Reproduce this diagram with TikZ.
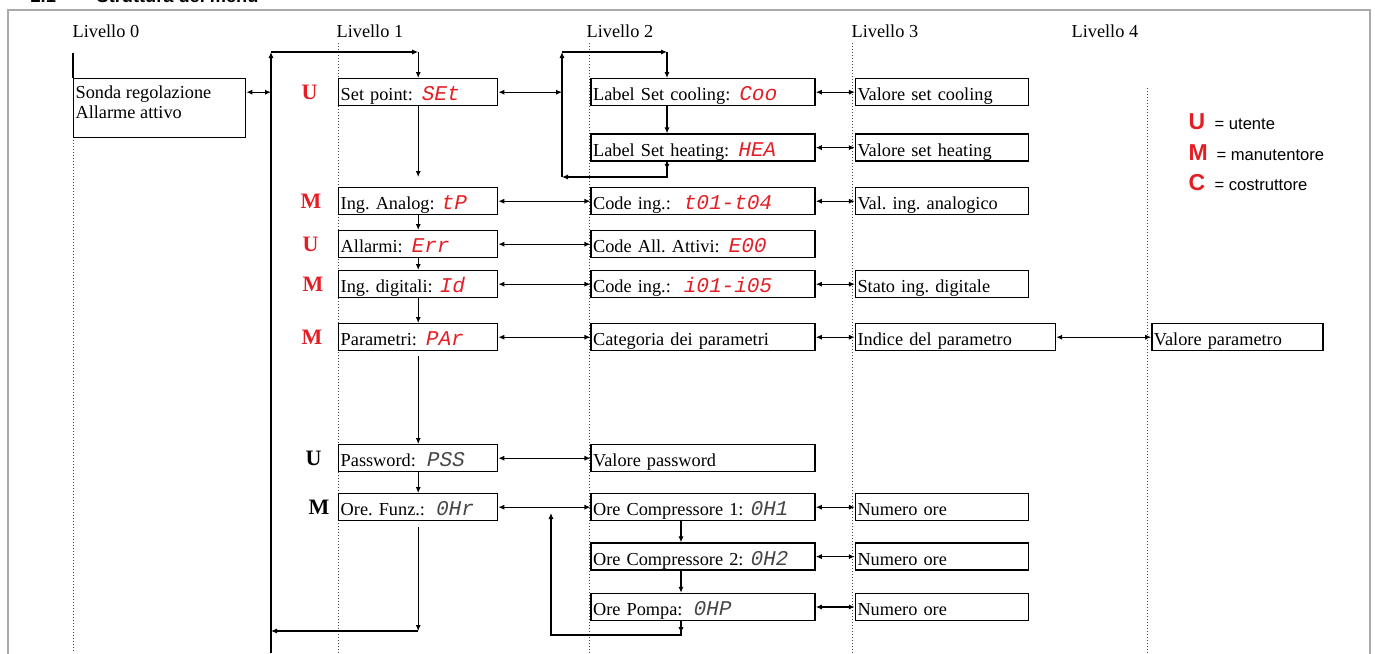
\documentclass[tikz,border=0pt]{standalone}
\usepackage{fontspec}
\setmainfont{Liberation Serif}
\setsansfont{Liberation Sans}
\newfontfamily\segfont[FakeSlant=0.2]{Liberation Mono}
\usetikzlibrary{positioning,arrows.meta}
\frenchspacing

\definecolor{rosso}{RGB}{228,30,36}
\definecolor{grigio}{RGB}{170,170,170}
\definecolor{scuro}{RGB}{70,70,70}

\newcommand{\segrosso}[1]{{\segfont\fontsize{10.5}{10.5}\selectfont\textcolor{rosso}{#1}}}
\newcommand{\segnero}[1]{{\segfont\fontsize{10.5}{10.5}\selectfont\textcolor{scuro}{#1}}}

\tikzset{
  casella/.style={draw, line width=0.7pt, minimum height=13.5pt, text height=8.5pt, text depth=0pt, inner ysep=0pt, inner xsep=1pt, align=left},
  cas1/.style={casella, text width=77.5pt},
  cas2/.style={casella, text width=110pt},
  cas3/.style={casella, text width=84.5pt},
  ruolo/.style={font=\fontsize{11}{11}\selectfont\bfseries, text=rosso, inner sep=0pt},
  livello/.style={anchor=base west, inner sep=0pt},
  guida/.style={densely dotted, line width=0.5pt, scuro},
  legenda/.style={font=\sffamily\bfseries\fontsize{11.5}{12}\selectfont, text=rosso, inner sep=0pt, anchor=west},
  legtesto/.style={font=\sffamily\fontsize{8.3}{9}\selectfont, inner sep=0pt, anchor=west}
}

\begin{document}
\begin{tikzpicture}[x=0.5pt, y=-0.5pt, line width=0.6pt, font=\fontsize{9.15}{10}\selectfont, >={Latex[length=3pt,width=2.6pt]}]
  \useasboundingbox (0,0) rectangle (1375,653);

  % Titolo e cornice
  \node[anchor=base west, inner sep=0pt, font=\sffamily\bfseries\fontsize{9.1}{10}\selectfont] (titolo) at (30,3) {2.1\hspace{20.4pt}Struttura del menu};
  \draw[grigio, line width=1pt] (8,670) -- (8,10) -- (1370,10) -- (1370,670);

  % Livelli
  \node[livello] (liv0) at (72,37) {Livello 0};
  \node[livello] (liv1) at (336,37) {Livello 1};
  \node[livello] (liv2) at (586,37) {Livello 2};
  \node[livello] (liv3) at (851,37) {Livello 3};
  \node[livello] (liv4) at (1071,37) {Livello 4};
  \foreach \x/\y in {73/53, 338/43, 589/43, 852/43, 1147/88}
    \draw[guida] (\x,\y) -- (\x,653);

  % Livello 0
  \node[casella, anchor=north west, minimum width=86pt, minimum height=29.5pt] (sonda) at (73,78) {};
  \node[anchor=north west, align=left, inner sep=1pt] (sondatxt) at ([yshift=-2.5pt]sonda.north west) {Sonda regolazione\\Allarme attivo};
  \draw (73,53) -- (sonda.north west);

  % Livello 1
  \node[cas1, anchor=north west] (setp) at (338,78) {Set point:\hspace{4pt}\segrosso{SEt}};
  \node[cas1, anchor=north west] (ana) at (338,187) {Ing. Analog:\hspace{3pt}\segrosso{tP}};
  \node[cas1, anchor=north west] (allar) at (338,230) {Allarmi:\hspace{4pt}\segrosso{Err}};
  \node[cas1, anchor=north west] (dig) at (338,270) {Ing. digitali:\hspace{3pt}\segrosso{Id}};
  \node[cas1, anchor=north west] (par) at (338,323) {Parametri:\hspace{4pt}\segrosso{PAr}};
  \node[cas1, anchor=north west] (pss) at (338,444) {Password:\hspace{5pt}\segnero{PSS}};
  \node[cas1, anchor=north west] (ore) at (338,493) {Ore. Funz.:\hspace{5pt}\segnero{0Hr}};

  % Utente / manutentore
  \node[ruolo, left=10pt of setp] (rset) {U};
  \node[ruolo, left=8pt of ana] (rana) {M};
  \node[ruolo, left=9.5pt of allar] (rall) {U};
  \node[ruolo, left=7pt of dig] (rdig) {M};
  \node[ruolo, left=7.5pt of par] (rpar) {M};
  \node[ruolo, text=black, left=8pt of pss] (rpss) {U};
  \node[ruolo, text=black, left=4pt of ore] (rore) {M};

  % Livello 2
  \node[cas2, right=46pt of setp] (cool) {Label Set cooling:\hspace{4pt}\segrosso{Coo}};
  \node[cas2, below=13.5pt of cool] (heat) {Label Set heating:\hspace{4pt}\segrosso{HEA}};
  \node[cas2, right=46pt of ana] (cana) {Code ing.:\hspace{6pt}\segrosso{t01-t04}};
  \node[cas2, right=46pt of allar] (call) {Code All. Attivi:\hspace{4pt}\segrosso{E00}};
  \node[cas2, right=46pt of dig] (cdig) {Code ing.:\hspace{6pt}\segrosso{i01-i05}};
  \node[cas2, right=46pt of par] (cat) {Categoria dei parametri};
  \node[cas2, right=46pt of pss] (vpss) {Valore password};
  \node[cas2, right=46pt of ore] (comp1) {Ore Compressore 1:\hspace{3pt}\segnero{0H1}};
  \node[cas2, below=10.5pt of comp1] (comp2) {Ore Compressore 2:\hspace{3pt}\segnero{0H2}};
  \node[cas2, below=11pt of comp2] (pompa) {Ore Pompa:\hspace{5pt}\segnero{0HP}};

  % Livello 3 e 4
  \node[cas3, right=19.5pt of cool] (vcool) {Valore set cooling};
  \node[cas3, right=19.5pt of heat] (vheat) {Valore set heating};
  \node[cas3, right=19.5pt of cana] (vana) {Val. ing. analogico};
  \node[cas3, right=19.5pt of cdig] (vdig) {Stato ing. digitale};
  \node[casella, text width=98pt, right=19.5pt of cat] (indice) {Indice del parametro};
  \node[cas3, right=19.5pt of comp1] (num1) {Numero ore};
  \node[cas3, right=19.5pt of comp2] (num2) {Numero ore};
  \node[cas3, right=19.5pt of pompa] (num3) {Numero ore};
  \node[casella, text width=83.5pt, right=47.5pt of indice] (vpar) {Valore parametro};

  % Legenda
  \node[legenda] (legU) at (1188,122) {U};
  \node[legtesto] (legUt) at (1214,124) {= utente};
  \node[legenda] (legM) at (1188,153) {M};
  \node[legtesto] (legMt) at (1216,155) {= manutentore};
  \node[legenda] (legC) at (1188,183) {C};
  \node[legtesto] (legCt) at (1214,185) {= costruttore};

  % Anello principale
  \coordinate (mA) at (271,52);
  \coordinate (mB) at (271,631);
  \coordinate (mC) at (271,653);
  \draw[->, line width=0.8pt] (mC) -- (mA);
  \draw[->] (mA) -- (mA -| setp);
  \draw[->] (mA -| setp) -- (setp.north);
  \draw[<->] (sonda.east |- setp) -- (mA |- setp);

  % Catena del livello 1
  \draw[->] (setp) -- ([yshift=5pt]ana.north);
  \draw[->] (ana) -- (allar);
  \draw[->] (allar) -- (dig);
  \draw[->] (dig) -- (par);
  \draw[->] ([yshift=-2.5pt]par.south) -- (pss.north);
  \draw[->] (pss) -- (ore);
  \draw[->] ([yshift=-3pt]ore.south) -- (ore.south |- mB);
  \draw[->] (ore.south |- mB) -- (mB);

  % Anello set point
  \coordinate (lA) at (562,52);
  \coordinate (lB) at (562,177);
  \coordinate (lD) at (667,52);
  \draw[<->] (setp) -- (setp -| lA);
  \draw[->] (lB) -- (lA);
  \draw[->] (lA) -- (lD);
  \draw[->] (lD) -- (lD |- cool.north);
  \draw[->] (lD |- cool.south) -- (lD |- heat.north);
  \draw[->] (lD |- heat.south) -- ++(0,8);
  \draw[->] (lD |- heat.south) -- (lD |- lB) -- (lB);

  % Anello ore
  \coordinate (oA) at (551,635);
  \coordinate (oD) at (681,635);
  \draw[->] (oD |- comp1.south) -- (oD |- comp2.north);
  \draw[->] (oD |- comp2.south) -- (oD |- pompa.north);
  \draw[->] (oD |- pompa.south) -- ++(0,12);
  \draw[->] (oD |- pompa.south) -- (oD) -- (oA) -- ++(0,-122);

  % Frecce tra i livelli
  \draw[<->] (ana) -- (cana);
  \draw[<->] (allar) -- (call);
  \draw[<->] (dig) -- (cdig);
  \draw[<->] (par) -- (cat);
  \draw[<->] (pss) -- (vpss);
  \draw[<->] (ore) -- (comp1);
  \draw[<->] (cool) -- (vcool);
  \draw[<->] (heat) -- (vheat);
  \draw[<->] (cana) -- (vana);
  \draw[<->] (cdig) -- (vdig);
  \draw[<->] (cat) -- (indice);
  \draw[<->] (comp1) -- (num1);
  \draw[<->] (comp2) -- (num2);
  \draw[<->] (pompa) -- (num3);
  \draw[<->] (indice) -- (vpar);
\end{tikzpicture}
\end{document}
